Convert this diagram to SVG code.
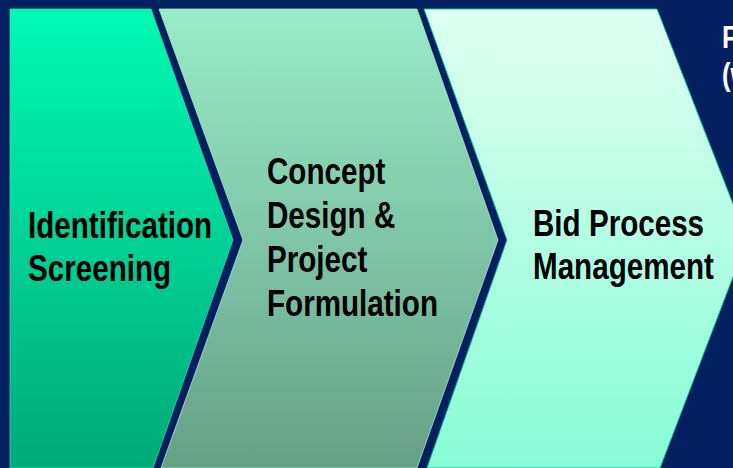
<svg xmlns="http://www.w3.org/2000/svg" width="733" height="468" viewBox="0 0 733 468">
<defs>
<linearGradient id="g1" x1="0" y1="0" x2="0" y2="1">
<stop offset="0" stop-color="#00FAB4"/><stop offset="1" stop-color="#00AA76"/>
</linearGradient>
<linearGradient id="g2" x1="0" y1="0" x2="0" y2="1">
<stop offset="0" stop-color="#99EBC8"/><stop offset="1" stop-color="#66A086"/>
</linearGradient>
<linearGradient id="g3" x1="0" y1="0" x2="0" y2="1">
<stop offset="0" stop-color="#DFFFF2"/><stop offset="1" stop-color="#88FCD6"/>
</linearGradient>
<style>
.lbl{font-family:"Liberation Sans",Arial,sans-serif;font-weight:bold;font-size:37px;fill:#000}
.wht{font-family:"Liberation Sans",Arial,sans-serif;font-weight:bold;font-size:32px;fill:#FFFFFF}
</style>
</defs>
<rect x="0" y="0" width="733" height="468" fill="#021F5F"/>
<g id="node-identification">
<polygon points="10,9 151,9 233,240 153,468 10,468" fill="url(#g1)" stroke="#2FE0B0" stroke-width="0.8"/>
<g transform="translate(28,0) scale(0.8,1)">
<text class="lbl" x="0" y="238">Identification</text>
<text class="lbl" x="0" y="281">Screening</text>
</g>
</g>
<g id="node-concept">
<polygon points="159,9 417,9 498,240 417,468 161,468 243,240" fill="url(#g2)" stroke="#A8E8CC" stroke-width="0.8"/>
<g transform="translate(267,0) scale(0.8,1)">
<text class="lbl" x="0" y="184">Concept</text>
<text class="lbl" x="0" y="228">Design &amp;</text>
<text class="lbl" x="0" y="272">Project</text>
<text class="lbl" x="0" y="316">Formulation</text>
</g>
</g>
<g id="node-bid">
<polygon points="424,9 657,9 747,240 660,468 427,468 507,240" fill="url(#g3)" stroke="#10C89A" stroke-width="1"/>
<g transform="translate(533,0) scale(0.8,1)">
<text class="lbl" x="0" y="236">Bid Process</text>
<text class="lbl" x="0" y="279">Management</text>
</g>
</g>
<g id="node-next">
<g transform="translate(722,0) scale(0.8,1)">
<text class="wht" x="0" y="48">P</text>
<text class="wht" x="0" y="85">(w</text>
</g>
</g>
<g id="connectors"/>
</svg>
